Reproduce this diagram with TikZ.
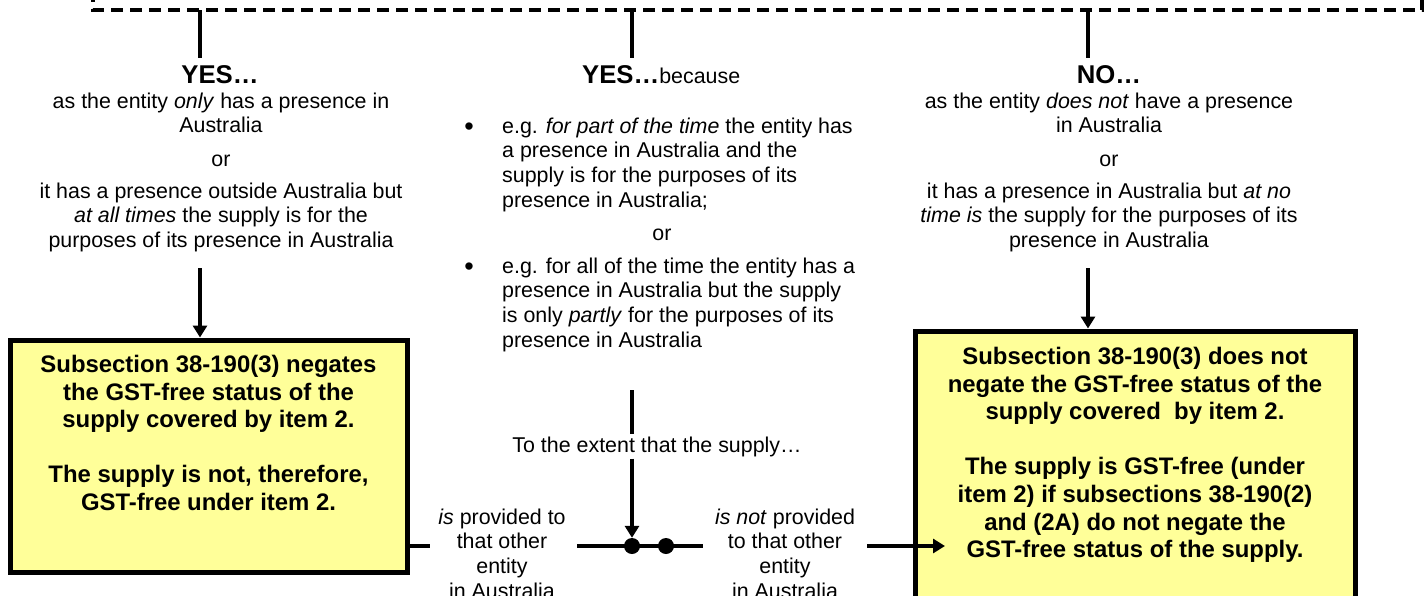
\documentclass[tikz,border=0pt]{standalone}
\usepackage{fontspec}
\setmainfont{Liberation Sans}
\usetikzlibrary{arrows.meta}
\definecolor{boxyellow}{RGB}{255,255,153}
\newcommand\ftxt{\fontsize{21.4pt}{24.6pt}\selectfont}
\newcommand\fhead{\fontsize{25.7pt}{29pt}\selectfont\bfseries}
\newcommand\fbx{\fontsize{23.9pt}{27.6pt}\selectfont\bfseries}
\newcommand\fs{\rule{0pt}{18pt}}
\tikzset{
  txt/.style={font=\ftxt, inner sep=0pt, align=center},
  hdr/.style={font=\fhead, inner sep=0pt, outer ysep=7pt},
  bul/.style={font=\fontsize{27pt}{27pt}\selectfont, inner sep=0pt},
  ybox/.style={draw, line width=5pt, fill=boxyellow, inner sep=0pt, anchor=north west},
  conn/.style={line width=4pt},
  arr/.style={line width=4pt, -{Triangle[width=14pt,length=12pt]}},
  dashln/.style={line width=3.5pt, dash pattern=on 12pt off 7pt},
  jdot/.style={circle, fill, inner sep=0pt, minimum size=16pt},
}
\begin{document}
\begin{tikzpicture}[x=1pt,y=-1pt]
\path[use as bounding box] (0,0) rectangle (1425,595);
\clip (0,0) rectangle (1425,595);

% dashed frame bottom
\coordinate (dl) at (93,10);
\coordinate (dr) at (1422,10);
\draw[dashln] (93,-10) -- (dl) -- (dr) -- (1422,-10);

% left column
\node[hdr, anchor=base] (yes1) at (220,83) {YES…};
\node[txt, anchor=north] (t1) at (221,90) {\fs as the entity \textit{only} has a presence in\\Australia};
\node[txt, anchor=base] (or1) at (221,166) {or};
\node[txt, anchor=north] (t2) at (221,180) {\fs it has a presence outside Australia but\\\textit{at all times} the supply is for the\\purposes of its presence in Australia};

% middle column
\node[hdr, anchor=base west] (yes2) at (582,83) {YES…{\mdseries\ftxt because}};
\node[bul, anchor=base] (bu1) at (469,135) {\textbullet};
\node[txt, anchor=north west, align=left] (b1) at (502,115) {\fs e.g. \textit{for part of the time} the entity has\\a presence in Australia and the\\supply is for the purposes of its\\presence in Australia;};
\node[txt, anchor=base] (or2) at (662,240) {or};
\node[bul, anchor=base] (bu2) at (469,275) {\textbullet};
\node[txt, anchor=north west, align=left] (b2) at (502,255) {\fs e.g. for all of the time the entity has a\\presence in Australia but the supply\\is only \textit{partly} for the purposes of its\\presence in Australia};

% right column
\node[hdr, anchor=base] (no) at (1109,83) {NO…};
\node[txt, anchor=north] (t3) at (1109,90) {\fs as the entity \textit{does not} have a presence\\in Australia};
\node[txt, anchor=base] (or3) at (1109,166) {or};
\node[txt, anchor=north] (t4) at (1109,180) {\fs it has a presence in Australia but \textit{at no}\\\textit{time is} the supply for the purposes of its\\presence in Australia};

% stems
\coordinate (s1) at (200,10);
\coordinate (s2) at (632,10);
\coordinate (s3) at (1088,10);
\draw[conn] (s1) -- (s1 |- yes1.north);
\draw[conn] (s2) -- (s2 |- yes2.north);
\draw[conn] (s3) -- (s3 |- no.north);

% boxes
\node[ybox] (lbox) at (7.5,337.5) {\parbox[c][232pt][t]{397pt}{\centering\fbx\rule{0pt}{32.5pt}Subsection 38-190(3) negates\\the GST-free status of the\\supply covered by item 2.\\[27.6pt]The supply is not, therefore,\\GST-free under item 2.}};
\node[ybox] (rbox) at (912.5,328.5) {\parbox[c][300pt][t]{440pt}{\centering\fbx\rule{0pt}{33.5pt}Subsection 38-190(3) does not\\negate the GST-free status of the\\supply covered~ by item 2.\\[27.6pt]The supply is GST-free (under\\item 2) if subsections 38-190(2)\\and (2A) do not negate the\\GST-free status of the supply.}};

% arrows into boxes
\coordinate (a1) at (200,268);
\coordinate (a2) at (1088,268);
\draw[arr] (a1) -- (a1 |- lbox.north);
\draw[arr] (a2) -- (a2 |- rbox.north);

% middle junction
\node[txt, anchor=base] (ext) at (657,452) {To the extent that the supply…};
\coordinate (mtop) at (632,390);
\coordinate (h0) at (430,546);
\coordinate (h1) at (577,546);
\coordinate (h2) at (703,546);
\coordinate (h3) at (867,546);
\coordinate (rin) at (945,546);
\draw[conn] (mtop) -- ([yshift=2pt]mtop |- ext.north);
\draw[conn] (h1) -- (h2);
\draw[conn] (lbox.east |- h0) -- (h0);
\node[jdot] (d1) at (632,546) {};
\node[jdot] (d2) at (666,546) {};
\draw[arr] ([yshift=-2pt]mtop |- ext.south) -- (d1.north);
\draw[arr] (h3) -- (rin);

\node[txt, anchor=north] (lab1) at (502,506) {\fs\textit{is} provided to\\that other\\entity\\in Australia};
\node[txt, anchor=north] (lab2) at (785,506) {\fs\textit{is not} provided\\to that other\\entity\\in Australia};
\end{tikzpicture}
\end{document}
